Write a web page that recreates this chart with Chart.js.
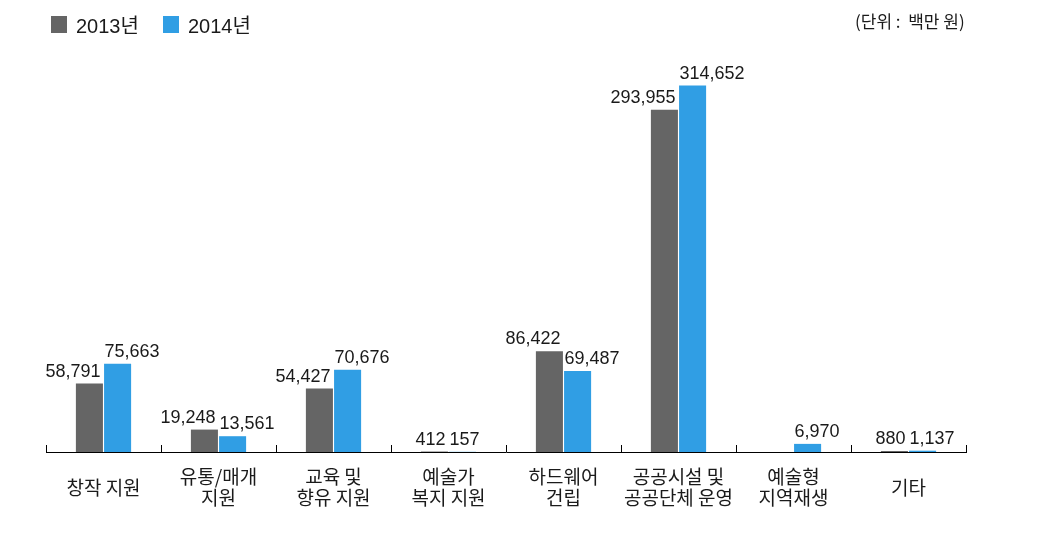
<!DOCTYPE html>
<html>
<head>
<meta charset="utf-8">
<script src="https://cdn.jsdelivr.net/npm/chart.js@4.4.1/dist/chart.umd.min.js"></script>
<style>
  html, body { margin: 0; padding: 0; background: #ffffff; }
  #wrap { position: relative; width: 1060px; height: 541px; overflow: hidden; }
  #legend { position: absolute; left: 51px; top: 10px; font-family: "Liberation Sans", "Noto Sans CJK KR", sans-serif; font-size: 20px; color: #1a1a1a; white-space: nowrap; }
  .item { display: inline-flex; align-items: center; margin-right: 24px; }
  .sw { display: inline-block; width: 16px; height: 17px; margin-right: 9px; }
  #unit { position: absolute; left: 855px; top: 8px; font-family: "Noto Sans CJK KR", sans-serif; font-size: 17px; color: #1a1a1a; white-space: pre; }
  canvas { position: absolute; left: 0; top: 0; }
</style>
</head>
<body>
<div id="wrap">
  <canvas id="c" width="1060" height="541"></canvas>
  <div id="legend"></div>
  <div id="unit">(단위 :  백만 원)</div>
</div>
<script>
const categories = [
  ['창작 지원'],
  ['유통/매개', '지원'],
  ['교육 및', '향유 지원'],
  ['예술가', '복지 지원'],
  ['하드웨어', '건립'],
  ['공공시설 및', '공공단체 운영'],
  ['예술형', '지역재생'],
  ['기타']
];
const seriesNames = ['2013년', '2014년'];
const values2013 = [58791, 19248, 54427, 412, 86422, 293955, null, 880];
const values2014 = [75663, 13561, 70676, 157, 69487, 314652, 6970, 1137];
const seriesColors = ['#656565', '#309ee4'];

// HTML legend
const legendEl = document.getElementById('legend');
seriesNames.forEach((n, i) => {
  const it = document.createElement('span');
  it.className = 'item';
  it.innerHTML = '<span class="sw" style="background:' + seriesColors[i] + '"></span>' + n;
  legendEl.appendChild(it);
});

const valueLabels = {
  id: 'valueLabels',
  afterDatasetsDraw(chart) {
    const ctx = chart.ctx;
    const xs = chart.scales.x;
    ctx.save();
    ctx.font = '18px "Liberation Sans", Arial, sans-serif';
    ctx.fillStyle = '#1a1a1a';
    ctx.textBaseline = 'alphabetic';
    chart.data.datasets.forEach((ds, di) => {
      const meta = chart.getDatasetMeta(di);
      meta.data.forEach((bar, i) => {
        const v = ds.data[i];
        if (v === null || v === undefined) return;
        const cx = xs.getPixelForValue(i);
        const txt = v.toLocaleString('en-US');
        if (di === 0) { ctx.textAlign = 'right'; ctx.fillText(txt, cx - 3, bar.y - 7); }
        else { ctx.textAlign = 'left'; ctx.fillText(txt, cx + 1, bar.y - 7); }
      });
    });
    ctx.restore();
  }
};

const upTicks = {
  id: 'upTicks',
  afterDatasetsDraw(chart) {
    const xs = chart.scales.x;
    const ctx = chart.ctx;
    const n = chart.data.labels.length;
    const step = (xs.right - xs.left) / n;
    ctx.save();
    ctx.strokeStyle = '#000';
    ctx.lineWidth = 1;
    for (let i = 0; i <= n; i++) {
      const x = Math.round(xs.left + i * step) + 0.5;
      ctx.beginPath();
      ctx.moveTo(x, xs.top - 7);
      ctx.lineTo(x, xs.top);
      ctx.stroke();
    }
    ctx.restore();
  }
};

new Chart(document.getElementById('c'), {
  type: 'bar',
  data: {
    labels: categories,
    datasets: [
      { label: seriesNames[0], data: values2013, backgroundColor: seriesColors[0], barPercentage: 0.96, categoryPercentage: 0.49 },
      { label: seriesNames[1], data: values2014, backgroundColor: seriesColors[1], barPercentage: 0.96, categoryPercentage: 0.49 }
    ]
  },
  options: {
    responsive: false,
    animation: false,
    layout: { padding: { left: 46, right: 94, top: 56, bottom: 6 } },
    plugins: { legend: { display: false }, tooltip: { enabled: false } },
    scales: {
      x: {
        afterFit: (s) => { s.height = 83; },
        grid: { display: false, drawTicks: false },
        border: { display: true, color: '#000', width: 1 },
        ticks: {
          color: '#1a1a1a',
          padding: 25,
          crossAlign: 'center',
          maxRotation: 0,
          autoSkip: false,
          font: { family: '"Noto Sans CJK KR", sans-serif', size: 19, lineHeight: 1.12 }
        }
      },
      y: {
        display: false,
        min: 0,
        max: 340000,
        grid: { display: false }
      }
    }
  },
  plugins: [valueLabels, upTicks]
});
</script>
</body>
</html>
